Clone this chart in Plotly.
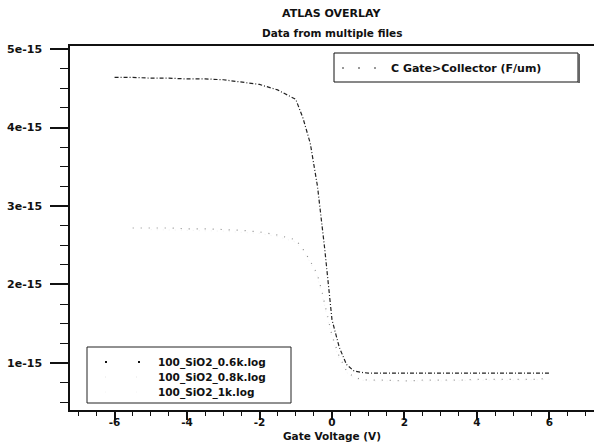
import plotly.graph_objects as go

# Gate voltage sweeps (V) and gate-collector capacitance (F/um) for each log file
v_06k = [-6, -5.5, -5, -4.5, -4, -3.5, -3, -2.5, -2, -1.5, -1, -0.8, -0.6, -0.4,
         -0.2, 0, 0.2, 0.4, 0.6, 0.8, 1, 1.5, 2, 2.5, 3, 3.5, 4, 4.5, 5, 5.5, 6]
c_06k = [4.64e-15, 4.64e-15, 4.63e-15, 4.63e-15, 4.62e-15, 4.62e-15, 4.61e-15,
         4.58e-15, 4.55e-15, 4.48e-15, 4.36e-15, 4.12e-15, 3.80e-15, 3.25e-15,
         2.45e-15, 1.55e-15, 1.20e-15, 0.98e-15, 0.90e-15, 0.88e-15, 0.87e-15,
         0.87e-15, 0.87e-15, 0.87e-15, 0.87e-15, 0.87e-15, 0.87e-15, 0.87e-15,
         0.87e-15, 0.87e-15, 0.87e-15]

v_08k = [-5.5, -5, -4.5, -4, -3.5, -3, -2.5, -2, -1.5, -1, -0.8, -0.6, -0.4, -0.3,
         -0.2, 0, 0.2, 0.4, 0.6, 0.8, 1, 1.5, 2, 2.5, 3, 3.5, 4, 4.5, 5, 5.5, 6]
c_08k = [2.72e-15, 2.72e-15, 2.72e-15, 2.71e-15, 2.71e-15, 2.70e-15, 2.69e-15,
         2.67e-15, 2.63e-15, 2.57e-15, 2.45e-15, 2.30e-15, 2.12e-15, 1.95e-15,
         1.75e-15, 1.35e-15, 1.08e-15, 0.90e-15, 0.82e-15, 0.79e-15, 0.78e-15,
         0.78e-15, 0.77e-15, 0.78e-15, 0.78e-15, 0.78e-15, 0.79e-15, 0.79e-15,
         0.79e-15, 0.79e-15, 0.80e-15]

v_1k = [-5, -4, -3, -2, -1.5, -1, -0.8, -0.6, -0.4, -0.2, 0, 0.2, 0.4, 0.6, 0.8,
        1, 2, 3, 4, 5, 6]
c_1k = [2.70e-15, 2.69e-15, 2.68e-15, 2.65e-15, 2.61e-15, 2.54e-15, 2.43e-15,
        2.28e-15, 2.10e-15, 1.72e-15, 1.32e-15, 1.05e-15, 0.88e-15, 0.81e-15,
        0.78e-15, 0.77e-15, 0.77e-15, 0.77e-15, 0.78e-15, 0.78e-15, 0.79e-15]

file_names = ["100_SiO2_0.6k.log", "100_SiO2_0.8k.log", "100_SiO2_1k.log"]
quantity = "C Gate>Collector (F/um)"

y_tick_vals = [1e-15, 2e-15, 3e-15, 4e-15, 5e-15]
y_tick_text = ["1e-15", "2e-15", "3e-15", "4e-15", "5e-15"]
x_tick_vals = [-6, -4, -2, 0, 2, 4, 6]
x_tick_text = ["-6", "-4", "-2", "0", "2", "4", "6"]

W, H = 594, 444
ML, MR, MT, MB = 70, 0, 46, 34
FONT = "DejaVu Sans"

line_styles = [
    dict(color="#222222", width=1.2, dash="4px,2px,1px,2px"),
    dict(color="#8a8a8a", width=1.2, dash="1px,7px"),
    dict(color="#f2f2f2", width=1, dash="1px,5px"),
]
sample_styles = [
    dict(color="#111111", width=2, dash="2px,31px"),
    dict(color="#e6e6e6", width=1, dash="1px,30px"),
    dict(color="#f4f4f4", width=1, dash="1px,30px"),
]

fig = go.Figure()
for xs, ys, name, st in zip([v_06k, v_08k, v_1k], [c_06k, c_08k, c_1k],
                            file_names, line_styles):
    fig.add_trace(go.Scatter(x=xs, y=ys, mode="lines", name=name,
                             line=st, showlegend=False))


def px(xpix):
    return (xpix - ML) / (W - ML - MR)


def py(ypix):
    return (H - MB - ypix) / (H - MT - MB)


shapes = []
annotations = []

# quantity legend, top right
shapes.append(dict(type="rect", xref="paper", yref="paper",
                   x0=px(334), x1=px(578), y0=py(82), y1=py(53),
                   line=dict(color="#111111", width=1), fillcolor="white"))
shapes.append(dict(type="line", xref="paper", yref="paper",
                   x0=px(579), x1=px(579), y0=py(83), y1=py(54),
                   line=dict(color="#666666", width=2)))
shapes.append(dict(type="line", xref="paper", yref="paper",
                   x0=px(342), x1=px(380), y0=py(68), y1=py(68),
                   line=dict(color="#333333", width=1, dash="2px,14px")))
annotations.append(dict(xref="paper", yref="paper", x=px(389), y=py(68),
                        text="<b>" + quantity + "</b>", showarrow=False,
                        xanchor="left", yanchor="middle",
                        font=dict(family=FONT, size=11, color="#111111")))

# file legend, bottom left
shapes.append(dict(type="rect", xref="paper", yref="paper",
                   x0=px(87), x1=px(291), y0=py(403), y1=py(347),
                   line=dict(color="#222222", width=1), fillcolor="white"))
row_y = [362, 377, 392]
for i, (name, st) in enumerate(zip(file_names, sample_styles)):
    shapes.append(dict(type="line", xref="paper", yref="paper",
                       x0=px(105), x1=px(142), y0=py(row_y[i]), y1=py(row_y[i]),
                       line=st))
    annotations.append(dict(xref="paper", yref="paper", x=px(156), y=py(row_y[i]),
                            text="<b>" + name + "</b>", showarrow=False,
                            xanchor="left", yanchor="middle",
                            font=dict(family=FONT, size=10.5, color="#111111")))

# titles
annotations.append(dict(xref="paper", yref="paper", x=px(331), y=py(13),
                        text="<b>ATLAS OVERLAY</b>", showarrow=False,
                        xanchor="center", yanchor="middle",
                        font=dict(family=FONT, size=11, color="#111111")))
annotations.append(dict(xref="paper", yref="paper", x=px(332), y=py(33),
                        text="<b>Data from multiple files</b>", showarrow=False,
                        xanchor="center", yanchor="middle",
                        font=dict(family=FONT, size=10.5, color="#111111")))
# x-axis title
annotations.append(dict(xref="paper", yref="paper", x=px(332), y=py(436),
                        text="<b>Gate Voltage (V)</b>", showarrow=False,
                        xanchor="center", yanchor="middle",
                        font=dict(family=FONT, size=10.5, color="#111111")))

fig.update_layout(
    width=W, height=H,
    margin=dict(l=ML, r=MR, t=MT, b=MB, pad=0),
    paper_bgcolor="white", plot_bgcolor="white",
    shapes=shapes, annotations=annotations,
    showlegend=False,
    font=dict(family=FONT, color="#111111"),
    xaxis=dict(
        range=[-7.23, 7.23], showgrid=False, zeroline=False,
        showline=True, linecolor="#111111", linewidth=1.5, mirror=True,
        ticks="outside", ticklen=8, tickwidth=2, tickcolor="#111111",
        tickvals=x_tick_vals, ticktext=["<b>%s</b>" % t for t in x_tick_text],
        tickfont=dict(family=FONT, size=10.5),
        ticklabelstandoff=-6,
        minor=dict(dtick=0.5, tick0=0, ticks="outside", ticklen=4,
                   tickwidth=1, tickcolor="#111111"),
    ),
    yaxis=dict(
        range=[0.40e-15, 5.04e-15], showgrid=False, zeroline=False,
        showline=True, linecolor="#111111", linewidth=1.5, mirror=False,
        ticks="outside", ticklen=18, tickwidth=1.5, tickcolor="#111111",
        tickvals=y_tick_vals, ticktext=["<b>%s</b>" % t for t in y_tick_text],
        tickfont=dict(family=FONT, size=11),
        ticklabelstandoff=6,
        minor=dict(dtick=0.25e-15, tick0=0, ticks="outside", ticklen=8,
                   tickwidth=1, tickcolor="#111111"),
    ),
)

fig.write_html("out.html")
